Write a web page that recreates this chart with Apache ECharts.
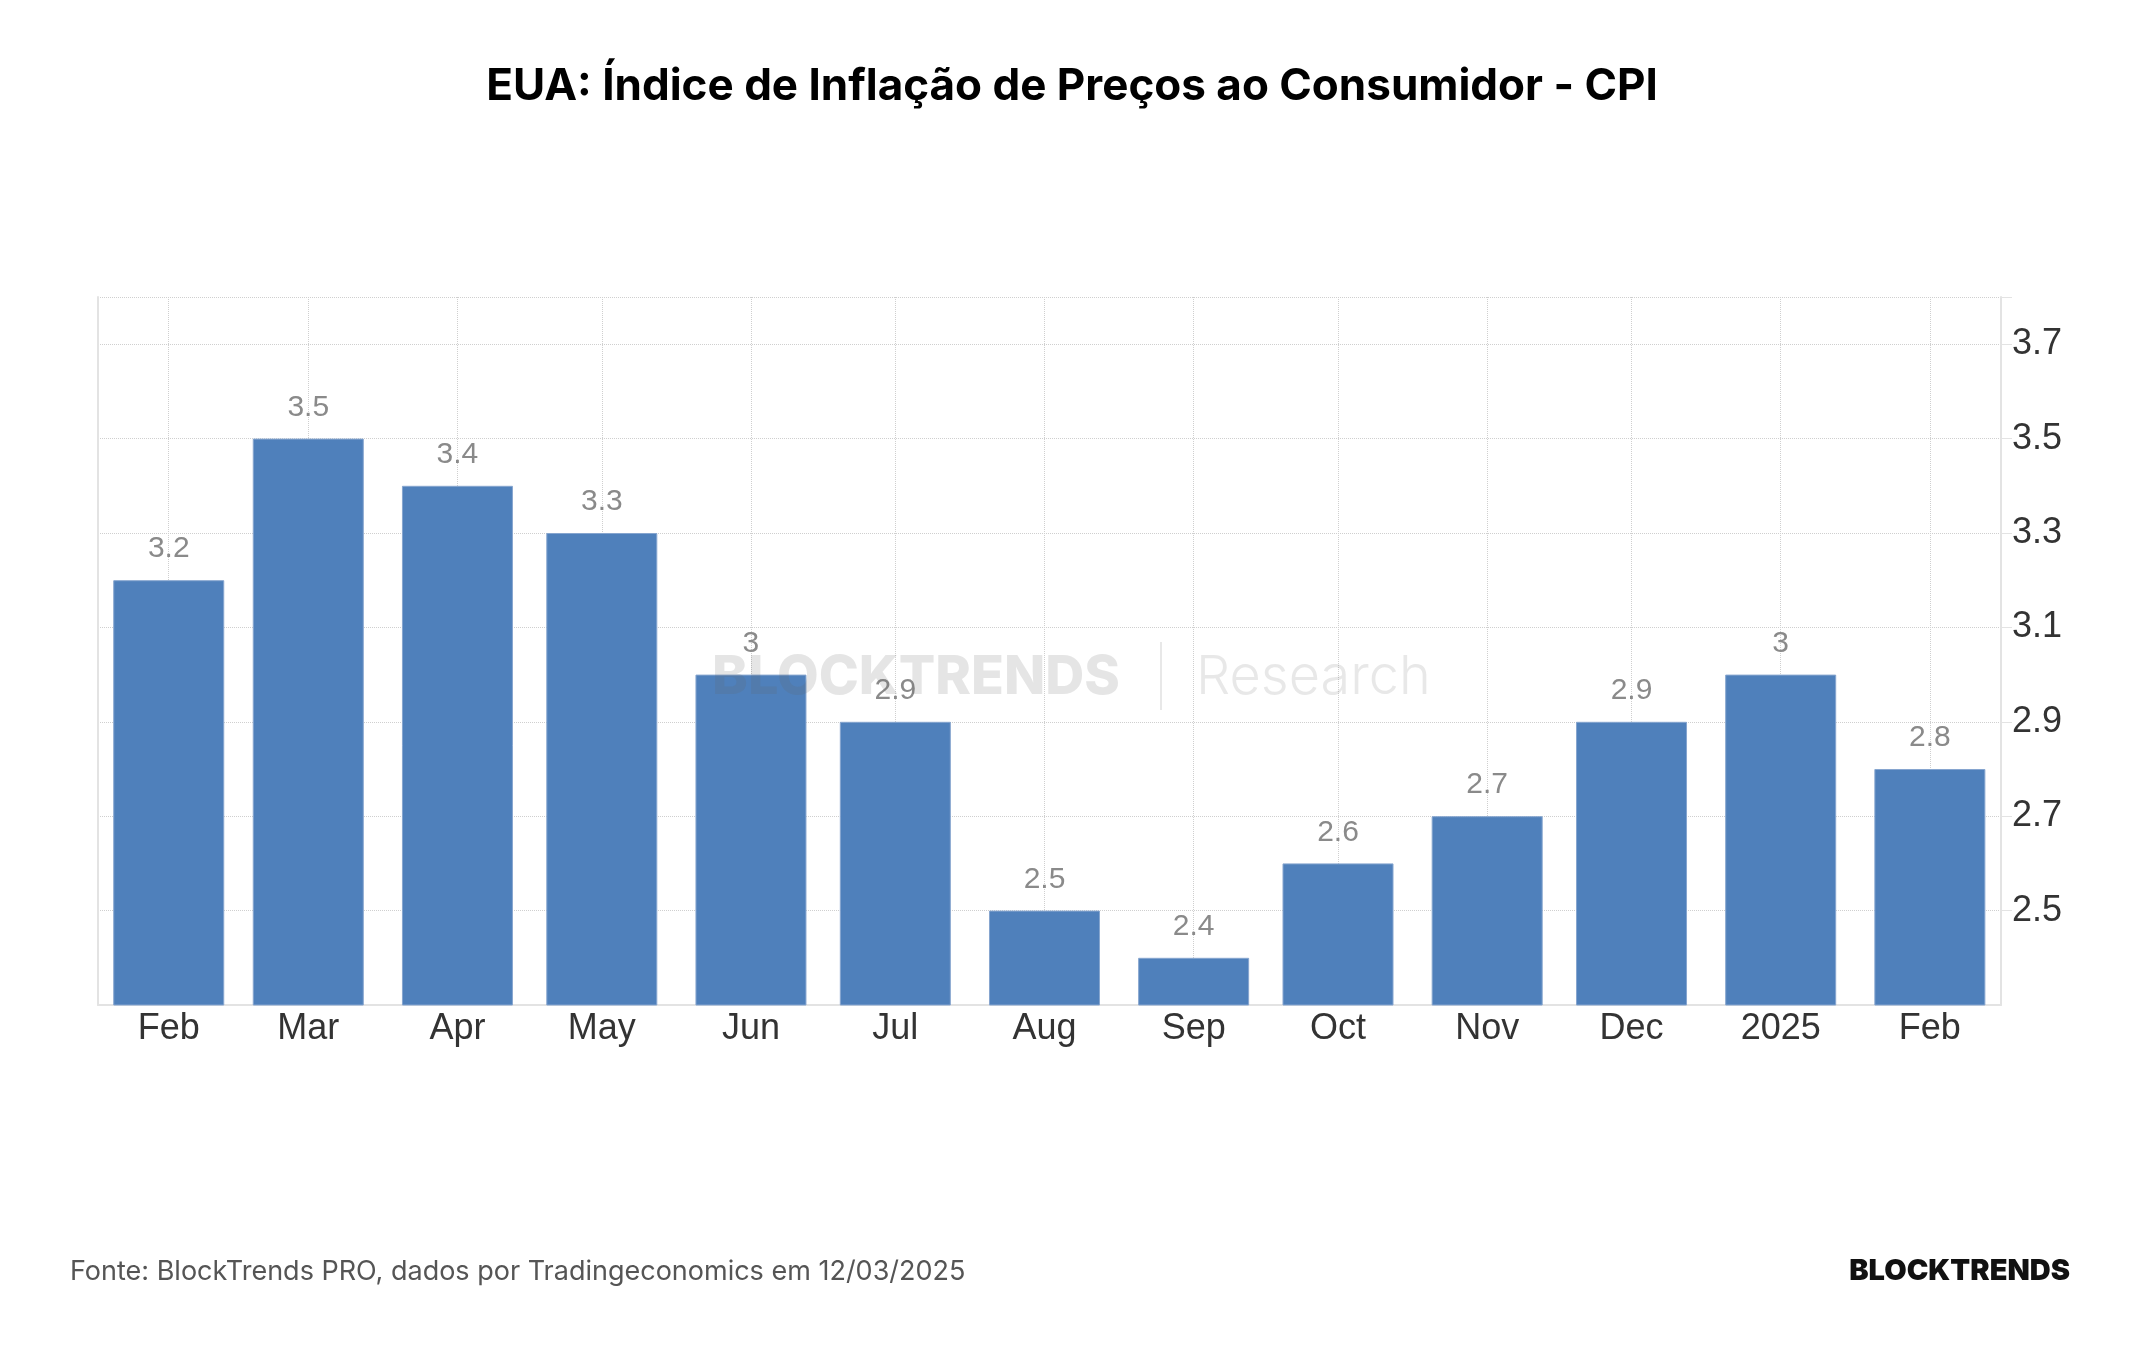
<!DOCTYPE html>
<html lang="pt">
<head>
    <meta charset="utf-8">
    <title>EUA: Índice de Inflação de Preços ao Consumidor - CPI</title>
    <script src="https://cdn.jsdelivr.net/npm/echarts@6.0.0/dist/echarts.min.js"></script>
    <style>
        html, body {
            margin: 0;
            padding: 0;
            background: #ffffff;
        }

        #chart {
            width: 2144px;
            height: 1350px;
        }
    </style>
</head>
<body>
<div id="chart"></div>

<script type="text/javascript">
    // dados do grafico (CPI anual, %)
    var months = ['2024-02-01', '2024-03-01', '2024-04-01', '2024-05-01', '2024-06-01', '2024-07-01', '2024-08-01',
        '2024-09-01', '2024-10-01', '2024-11-01', '2024-12-01', '2025-01-01', '2025-02-01'];
    var cpiValues = [3.2, 3.5, 3.4, 3.3, 3.0, 2.9, 2.5, 2.4, 2.6, 2.7, 2.9, 3.0, 2.8];
    var monthNames = ['Jan', 'Feb', 'Mar', 'Apr', 'May', 'Jun', 'Jul', 'Aug', 'Sep', 'Oct', 'Nov', 'Dec'];
    var yLabels = [2.5, 2.7, 2.9, 3.1, 3.3, 3.5, 3.7];
    var yGridLines = [2.5, 2.7, 2.9, 3.1, 3.3, 3.5, 3.7, 3.8];

    var seriesData = months.map(function (m, i) {
        return [m, cpiValues[i]];
    });

    var DAY = 24 * 3600 * 1000;
    var gridColor = '#cfcfcf';
    var axisColor = '#e3e3e3';

    var myChart = echarts.init(document.getElementById('chart'));
    var option = {
        backgroundColor: '#ffffff',
        animation: false,
        title: {
            text: 'EUA: Índice de Inflação de Preços ao Consumidor - CPI',
            left: 'center',
            top: 60,
            textStyle: {
                fontFamily: 'Inter',
                fontWeight: 700,
                fontSize: 44,
                color: '#000000'
            }
        },
        grid: {
            left: 98,
            right: 143,
            top: 297,
            bottom: 345
        },
        xAxis: {
            type: 'time',
            // o echarts alarga o eixo meia barra de cada lado, entao min/max ficam mais para dentro
            min: '2024-01-28 20:00',
            max: '2025-02-04 06:00',
            splitNumber: 13,
            minInterval: 28 * DAY,
            maxInterval: 31 * DAY,
            axisLine: {show: true, lineStyle: {color: axisColor, width: 2}},
            axisTick: {show: false},
            splitLine: {show: true, lineStyle: {color: gridColor, type: 'dotted', width: 1}},
            axisLabel: {
                margin: 6,
                color: '#333333',
                fontFamily: 'Liberation Sans',
                fontSize: 36,
                hideOverlap: false,
                formatter: function (val) {
                    var d = new Date(val);
                    if (d.getDate() !== 1 || d.getHours() !== 0) return '';
                    // janeiro aparece como o ano
                    return d.getMonth() === 0 ? String(d.getFullYear()) : monthNames[d.getMonth()];
                }
            }
        },
        yAxis: [{
            type: 'value',
            position: 'right',
            min: 2.3,
            max: 3.8,
            axisLine: {show: true, lineStyle: {color: axisColor, width: 2}},
            axisTick: {
                show: true,
                length: 11,
                customValues: yGridLines,
                lineStyle: {color: axisColor}
            },
            splitLine: {show: true, lineStyle: {color: gridColor, type: 'dotted', width: 1}},
            axisLabel: {
                customValues: yLabels,
                margin: 11,
                color: '#333333',
                fontFamily: 'Liberation Sans',
                fontSize: 36,
                padding: [0, 0, 6, 0],
                formatter: function (v) {
                    return v.toFixed(1);
                }
            }
        }, {
            // so a linha da esquerda
            type: 'value',
            position: 'left',
            min: 2.3,
            max: 3.8,
            axisLine: {show: true, lineStyle: {color: axisColor, width: 2}},
            axisTick: {show: false},
            axisLabel: {show: false},
            splitLine: {show: false}
        }],
        series: [{
            name: 'CPI',
            type: 'bar',
            yAxisIndex: 0,
            barWidth: 111,
            data: seriesData,
            itemStyle: {
                color: '#4f80bb',
                borderColor: '#86a5cf',
                borderWidth: 1
            },
            label: {
                show: true,
                position: 'top',
                distance: 16,
                color: '#8a8a8a',
                fontFamily: 'Liberation Sans',
                fontSize: 30,
                formatter: function (p) {
                    return String(p.value[1]);
                }
            }
        }],
        graphic: [
            {
                type: 'text',
                z: 100,
                left: 712,
                top: 651,
                style: {
                    text: 'BLOCKTRENDS',
                    fontFamily: 'Inter',
                    fontWeight: 800,
                    fontSize: 54,
                    fill: 'rgba(100,100,100,0.17)'
                }
            },
            {
                type: 'rect',
                z: 100,
                shape: {x: 1160, y: 642, width: 2, height: 68},
                style: {fill: 'rgba(100,100,100,0.15)'}
            },
            {
                type: 'text',
                z: 100,
                left: 1196,
                top: 651,
                style: {
                    text: 'Research',
                    fontFamily: 'Inter',
                    fontWeight: 300,
                    fontSize: 54,
                    fill: 'rgba(100,100,100,0.15)'
                }
            },
            {
                type: 'text',
                left: 70,
                top: 1258,
                style: {
                    text: 'Fonte: BlockTrends PRO, dados por Tradingeconomics em 12/03/2025',
                    fontFamily: 'Inter',
                    fontSize: 27,
                    fill: '#555555'
                }
            },
            {
                type: 'text',
                right: 74,
                top: 1257,
                style: {
                    text: 'BLOCKTRENDS',
                    fontFamily: 'Inter',
                    fontWeight: 900,
                    fontSize: 29,
                    fill: '#111111'
                }
            }
        ]
    };

    myChart.setOption(option);
</script>
</body>
</html>
